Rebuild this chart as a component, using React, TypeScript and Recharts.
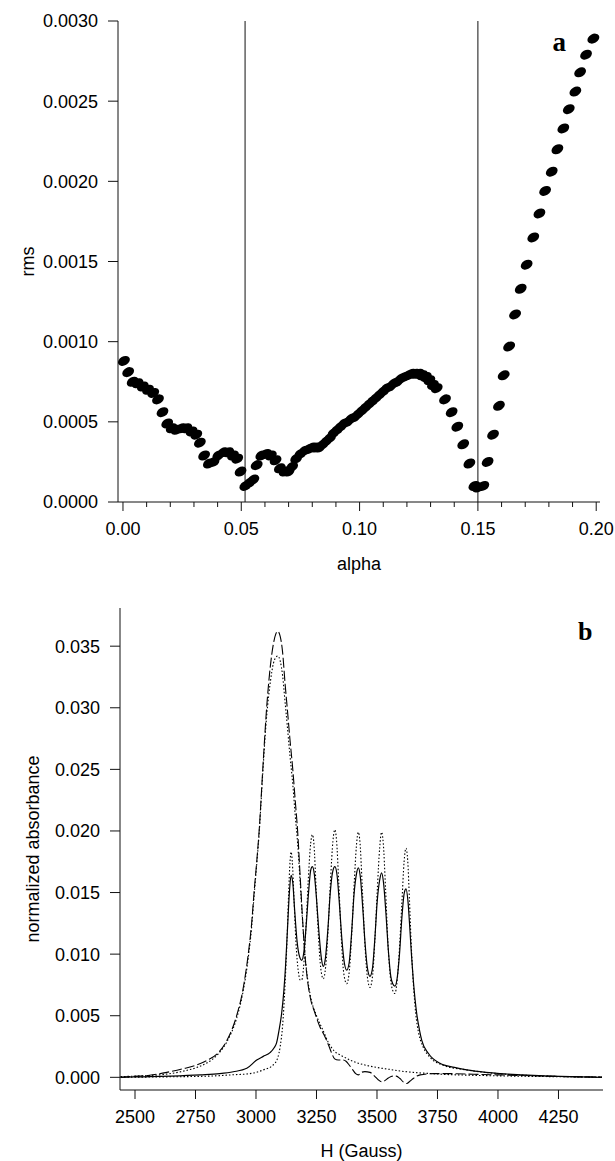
import React from 'react';
import { ScatterChart, Scatter, XAxis, YAxis, ReferenceLine, LineChart, Line } from 'recharts';

// ---------- Panel a data ----------
const alphaVals = [
  0.0004, 0.0022, 0.0041, 0.0062, 0.0084, 0.0106, 0.0128, 0.0148, 0.0167, 0.0187,
  0.0206, 0.0226, 0.0248, 0.0268, 0.029, 0.031, 0.0325, 0.0343, 0.0363, 0.0383,
  0.0403, 0.0424, 0.0445, 0.0465, 0.0483, 0.0497, 0.0517, 0.0535, 0.0551, 0.0565,
  0.0585, 0.0605, 0.0625, 0.0645, 0.0663, 0.0683, 0.07, 0.0715, 0.0732, 0.075,
  0.0768, 0.0785, 0.08, 0.0815, 0.083, 0.0845, 0.086, 0.0875, 0.089, 0.0905,
  0.092, 0.0935, 0.095, 0.0965, 0.098, 0.0995, 0.101, 0.1025, 0.104, 0.1055,
  0.107, 0.1085, 0.11, 0.1115, 0.113, 0.1145, 0.116, 0.1175, 0.119, 0.1205,
  0.122, 0.1235, 0.125, 0.1265, 0.128, 0.1295, 0.131, 0.1326, 0.1361, 0.1389,
  0.1413, 0.1438, 0.1464, 0.1485, 0.15, 0.1523, 0.1541, 0.1564, 0.1589, 0.1609,
  0.1632, 0.1657, 0.1681, 0.1706, 0.1734, 0.176, 0.1784, 0.1812, 0.1836, 0.1861,
  0.1884, 0.1912, 0.1932, 0.1957, 0.1988,
];
const rmsVals = [
  0.00088, 0.00081, 0.00075, 0.00074, 0.00072, 0.0007, 0.00068, 0.00064, 0.00056, 0.00049,
  0.00046, 0.00045, 0.00046, 0.00046, 0.00044, 0.00042, 0.00037, 0.00029, 0.00024, 0.00025,
  0.00029, 0.00031, 0.00031, 0.00029, 0.00027, 0.00019, 0.0001, 0.00012, 0.00014, 0.00023,
  0.00029, 0.0003, 0.00029, 0.00026, 0.00021, 0.00019, 0.00019, 0.00022, 0.00027, 0.0003,
  0.00032, 0.00033, 0.00034, 0.00034, 0.00034, 0.00036, 0.00038, 0.0004, 0.00043, 0.00045,
  0.00047, 0.00049, 0.0005, 0.00052, 0.00053, 0.00055, 0.00057, 0.00059, 0.00061, 0.00063,
  0.00065, 0.00067, 0.00069, 0.00071, 0.00072, 0.00074, 0.00075, 0.00077, 0.00078, 0.00079,
  0.0008, 0.0008, 0.0008, 0.00079, 0.00078, 0.00076, 0.00073, 0.00071, 0.00064, 0.00056,
  0.00047, 0.00036, 0.00024, 0.0001, 0.00009, 0.0001, 0.00025, 0.00042, 0.0006, 0.00079,
  0.00097, 0.00117, 0.00133, 0.00148, 0.00165, 0.0018, 0.00194, 0.00206, 0.0022, 0.00233,
  0.00245, 0.00256, 0.00268, 0.00279, 0.00289,
];
const alphaTicks = [0, 0.01, 0.02, 0.03, 0.04, 0.05, 0.06, 0.07, 0.08, 0.09, 0.1, 0.11, 0.12, 0.13, 0.14, 0.15, 0.16, 0.17, 0.18, 0.19, 0.2];
const alphaLabelTicks = [0, 0.05, 0.1, 0.15, 0.2];
const rmsTicks = [0, 0.0005, 0.001, 0.0015, 0.002, 0.0025, 0.003];
const alphaMarkers = [0.0516, 0.15];

// ---------- Panel b data ----------
const hSolid = [
  2440, 2500, 2560, 2650, 2770, 2850, 2906, 2962, 3003, 3030, 3058, 3075, 3085, 3095, 3106, 3115, 3122, 3130, 3138, 3145,
  3152, 3160, 3170, 3180, 3189, 3198, 3208, 3218, 3226, 3233, 3241, 3250, 3260, 3270, 3278, 3287, 3297, 3307, 3317, 3326,
  3335, 3345, 3355, 3365, 3375, 3385, 3395, 3405, 3415, 3423, 3431, 3441, 3451, 3461, 3471, 3481, 3491, 3501, 3511, 3519,
  3527, 3537, 3547, 3557, 3565, 3574, 3583, 3593, 3603, 3613, 3620, 3628, 3636, 3643, 3650, 3657, 3664, 3675, 3685, 3712,
  3760, 3820, 3871, 3950, 4008, 4100, 4215, 4300, 4430,
];
const vSolid = [
  0, 0.00003, 0.00005, 0.0001, 0.0002, 0.0003, 0.00045, 0.00073, 0.0014, 0.0017, 0.002, 0.0024, 0.0028, 0.0038, 0.0052, 0.007, 0.009, 0.012, 0.015, 0.0164,
  0.0158, 0.0135, 0.011, 0.0098, 0.0095, 0.0102, 0.0125, 0.0152, 0.0168, 0.0171, 0.0165, 0.0145, 0.0118, 0.0097, 0.009, 0.0097, 0.012, 0.015, 0.0167, 0.0171,
  0.0164, 0.014, 0.0112, 0.0093, 0.0087, 0.0093, 0.0117, 0.0148, 0.0165, 0.017, 0.0163, 0.0138, 0.0108, 0.0088, 0.0082, 0.0088, 0.0112, 0.0143, 0.016, 0.0166,
  0.0158, 0.0133, 0.0103, 0.0082, 0.0076, 0.0074, 0.008, 0.01, 0.013, 0.015, 0.0153, 0.0143, 0.012, 0.0098, 0.0079, 0.0064, 0.0052, 0.0039, 0.003, 0.00195,
  0.00114, 0.0008, 0.0006, 0.0004, 0.0003, 0.0002, 0.0001, 0.00005, 0,
];
const hFitNarrow = [
  2440, 2600, 2810, 2900, 2975, 3030, 3071, 3090, 3100, 3110, 3120, 3128, 3135, 3141, 3145, 3150, 3157, 3165, 3175, 3183,
  3189, 3196, 3206, 3216, 3226, 3233, 3240, 3248, 3258, 3268, 3278, 3288, 3298, 3308, 3318, 3326, 3333, 3342, 3352, 3363,
  3375, 3386, 3396, 3406, 3415, 3423, 3430, 3439, 3449, 3460, 3471, 3482, 3492, 3502, 3511, 3519, 3526, 3535, 3545, 3556,
  3566, 3574, 3583, 3593, 3603, 3612, 3620, 3627, 3634, 3641, 3650, 3660, 3672, 3690, 3720, 3770, 3870, 4000, 4200, 4430,
];
const vFitNarrow = [
  0, 0.00003, 0.0001, 0.0002, 0.0003, 0.0006, 0.001, 0.0016, 0.0025, 0.0042, 0.0075, 0.011, 0.015, 0.0176, 0.0183, 0.0175, 0.0145, 0.011, 0.0086, 0.0079,
  0.0079, 0.0088, 0.012, 0.016, 0.019, 0.0197, 0.0188, 0.0155, 0.0115, 0.0088, 0.008, 0.009, 0.012, 0.016, 0.0192, 0.0201, 0.0192, 0.0158, 0.0115, 0.0084,
  0.0076, 0.0087, 0.0118, 0.0158, 0.0188, 0.0199, 0.019, 0.0155, 0.0112, 0.0082, 0.0073, 0.0083, 0.0114, 0.0155, 0.0186, 0.0199, 0.019, 0.0155, 0.011, 0.008,
  0.007, 0.0068, 0.0078, 0.0105, 0.0142, 0.0175, 0.0186, 0.0176, 0.0145, 0.011, 0.0077, 0.0052, 0.0036, 0.0025, 0.0016, 0.001, 0.0006, 0.0003, 0.0001, 0,
];
const hBroad = [
  2440, 2500, 2560, 2631, 2700, 2755, 2800, 2844, 2880, 2920, 2945, 2968, 2982, 2992, 3003, 3013, 3028, 3044, 3060, 3072,
  3082, 3090, 3100, 3110, 3120, 3129, 3140, 3152, 3162, 3172, 3182, 3192, 3202, 3212, 3223, 3244, 3264, 3285, 3300, 3313,
  3325, 3340, 3360, 3372, 3385, 3400, 3412, 3423, 3435, 3450, 3471, 3490, 3505, 3519, 3530, 3547, 3565, 3580, 3595, 3610,
  3623, 3637, 3650, 3665, 3678, 3733, 3800, 3900, 4000, 4100, 4200, 4300, 4430,
];
const vBroad = [
  0.00002, 0.00008, 0.00017, 0.0004, 0.0007, 0.001, 0.0014, 0.002, 0.003, 0.005, 0.007, 0.01, 0.0125, 0.015, 0.0175, 0.02, 0.025, 0.03, 0.0335, 0.0352,
  0.036, 0.0362, 0.0358, 0.0345, 0.032, 0.03, 0.0275, 0.025, 0.0225, 0.02, 0.0165, 0.013, 0.01, 0.008, 0.0066, 0.0052, 0.0041, 0.0033, 0.0026, 0.00195,
  0.0015, 0.0014, 0.0014, 0.0013, 0.001, 0.0006, 0.0003, 0.0002, 0.0004, 0.00046, 0.0004, 0.0001, -0.0002, -0.00036, -0.0003, -0.00005, 0.0001, 0.0001, -0.0001, -0.0004,
  -0.0005, -0.0003, -0.0001, 0.0001, 0.0002, 0.0003, 0.0003, 0.00025, 0.0002, 0.00015, 0.0001, 0.00005, 0.00002,
];
const hFitBroad = [
  2440, 2500, 2600, 2700, 2755, 2800, 2844, 2880, 2920, 2945, 2968, 2982, 2992, 3003, 3013, 3028, 3044, 3060, 3072, 3082,
  3090, 3100, 3110, 3120, 3129, 3140, 3152, 3162, 3172, 3182, 3192, 3202, 3212, 3225, 3250, 3275, 3300, 3325, 3350, 3400,
  3450, 3500, 3550, 3600, 3650, 3700, 3800, 3900, 4000, 4200, 4430,
];
const vFitBroad = [
  0.00005, 0.0001, 0.0002, 0.0005, 0.0008, 0.0012, 0.0019, 0.0029, 0.0048, 0.0068, 0.0097, 0.0122, 0.0147, 0.0173, 0.0198, 0.0247, 0.0293, 0.0322, 0.0336, 0.0341,
  0.0342, 0.0338, 0.0326, 0.0305, 0.0286, 0.0262, 0.0238, 0.0213, 0.019, 0.016, 0.0128, 0.01, 0.0082, 0.0066, 0.005, 0.0039, 0.0028, 0.0021, 0.0018, 0.0013,
  0.001, 0.0008, 0.00065, 0.0005, 0.0004, 0.00033, 0.00022, 0.00016, 0.00012, 0.00006, 0.00002,
];
const hTicks = [2500, 2750, 3000, 3250, 3500, 3750, 4000, 4250];
const absTicks = [0, 0.005, 0.01, 0.015, 0.02, 0.025, 0.03, 0.035];

const FONT = '"Liberation Sans", Arial, Helvetica, sans-serif';
const FS = 18;
const INK = '#111';

const zip = (xs: number[], ys: number[]) => xs.map((x, i) => ({ x, y: ys[i] }));
const scatterData = zip(alphaVals, rmsVals);
const solidData = zip(hSolid, vSolid);
const fitNarrowData = zip(hFitNarrow, vFitNarrow);
const broadData = zip(hBroad, vBroad);
const fitBroadData = zip(hFitBroad, vFitBroad);

const Marker = (props: any) => {
  const { cx, cy } = props;
  if (cx == null || cy == null) return null;
  return <ellipse cx={cx} cy={cy} rx={6.3} ry={4.5} fill="#000" transform={`rotate(-30 ${cx} ${cy})`} />;
};

const AlphaTick = (props: any) => {
  const { x, y, payload } = props;
  const v = payload.value as number;
  const major = alphaLabelTicks.some((t) => Math.abs(t - v) < 1e-9);
  return (
    <g>
      <line x1={x} x2={x} y1={y} y2={y + (major ? 9 : 5)} stroke={INK} strokeWidth={1} />
      {major && (
        <text x={x} y={y + 20.5} dy="0.71em" textAnchor="middle" fontSize={FS} fontFamily={FONT} fill="#000">
          {v.toFixed(2)}
        </text>
      )}
    </g>
  );
};

const tickStyle = { fontSize: FS, fontFamily: FONT, fill: '#000' };

function PanelA() {
  return (
    <ScatterChart width={615} height={590} margin={{ top: 21, right: 15, bottom: 20, left: 0 }}>
      <XAxis
        dataKey="x"
        type="number"
        domain={[-0.0021, 0.2016]}
        allowDataOverflow
        ticks={alphaTicks}
        interval={0}
        tick={<AlphaTick />}
        tickLine={false}
        tickSize={0}
        tickMargin={0}
        height={68}
        axisLine={{ stroke: INK }}
        label={{ value: 'alpha', position: 'insideBottom', offset: 0, style: { fontSize: FS, fontFamily: FONT, fill: '#000' } }}
      />
      <XAxis xAxisId="top" orientation="top" type="number" domain={[-0.0021, 0.2016]} height={0} tick={false} tickLine={false} axisLine={{ stroke: INK }} />
      <YAxis
        dataKey="y"
        type="number"
        domain={[0, 0.003]}
        allowDataOverflow
        ticks={rmsTicks}
        interval={0}
        tickFormatter={(v: number) => v.toFixed(4)}
        tick={tickStyle}
        tickSize={10}
        tickMargin={10}
        tickLine={{ stroke: INK }}
        axisLine={{ stroke: INK }}
        width={118}
        label={{ value: 'rms', angle: -90, position: 'insideLeft', offset: 28, style: { textAnchor: 'middle', fontSize: FS, fontFamily: FONT, fill: '#000' } }}
      />
      <YAxis yAxisId="right" orientation="right" type="number" domain={[0, 0.003]} width={0} tick={false} tickLine={false} axisLine={{ stroke: INK }} />
      {alphaMarkers.map((m) => (
        <ReferenceLine key={m} x={m} stroke={INK} strokeWidth={1} />
      ))}
      <Scatter data={scatterData} shape={<Marker />} isAnimationActive={false} />
    </ScatterChart>
  );
}

function PanelB() {
  return (
    <LineChart width={615} height={571} margin={{ top: 18, right: 12, bottom: 4, left: 0 }}>
      <XAxis
        dataKey="x"
        type="number"
        domain={[2438, 4434]}
        allowDataOverflow
        ticks={hTicks}
        interval={0}
        tick={tickStyle}
        tickSize={9}
        tickMargin={11.5}
        tickLine={{ stroke: INK }}
        axisLine={{ stroke: INK }}
        height={67}
        label={{ value: 'H (Gauss)', position: 'insideBottom', offset: 0, style: { fontSize: FS, fontFamily: FONT, fill: '#000' } }}
      />
      <XAxis xAxisId="top" orientation="top" type="number" domain={[2438, 4434]} height={0} tick={false} tickLine={false} axisLine={{ stroke: INK }} />
      <YAxis
        type="number"
        domain={[-0.00103, 0.0381]}
        allowDataOverflow
        ticks={absTicks}
        interval={0}
        tickFormatter={(v: number) => v.toFixed(3)}
        tick={tickStyle}
        tickSize={10}
        tickMargin={10}
        tickLine={{ stroke: INK }}
        axisLine={{ stroke: INK }}
        width={120}
        label={{ value: 'normalized absorbance', angle: -90, position: 'insideLeft', offset: 33, style: { textAnchor: 'middle', fontSize: FS, fontFamily: FONT, fill: '#000' } }}
      />
      <YAxis yAxisId="right" orientation="right" type="number" domain={[-0.00103, 0.0381]} width={0} tick={false} tickLine={false} axisLine={{ stroke: INK }} />
      <Line data={fitBroadData} dataKey="y" type="monotone" stroke="#000" strokeWidth={1.1} strokeDasharray="1.5 2" dot={false} isAnimationActive={false} />
      <Line data={broadData} dataKey="y" type="monotone" stroke="#000" strokeWidth={1.1} strokeDasharray="10 3" dot={false} isAnimationActive={false} />
      <Line data={fitNarrowData} dataKey="y" type="monotone" stroke="#000" strokeWidth={1.1} strokeDasharray="1.5 2" dot={false} isAnimationActive={false} />
      <Line data={solidData} dataKey="y" type="monotone" stroke="#000" strokeWidth={1.2} dot={false} isAnimationActive={false} />
    </LineChart>
  );
}

export default function App() {
  return (
    <div style={{ position: 'absolute', left: 0, top: 0, width: 615, height: 1161, background: '#fff' }}>
      <div style={{ position: 'absolute', left: 0, top: 0 }}>
        <PanelA />
      </div>
      <div style={{ position: 'absolute', left: 0, top: 590 }}>
        <PanelB />
      </div>
      <svg width={615} height={1161} style={{ position: 'absolute', left: 0, top: 0, pointerEvents: 'none' }}>
        <text x={552.5} y={50.5} fontFamily='"Liberation Serif", "Times New Roman", serif' fontWeight="bold" fontSize={27} fill="#000">a</text>
        <text x={578} y={639.5} fontFamily='"Liberation Serif", "Times New Roman", serif' fontWeight="bold" fontSize={26} fill="#000">b</text>
      </svg>
    </div>
  );
}
